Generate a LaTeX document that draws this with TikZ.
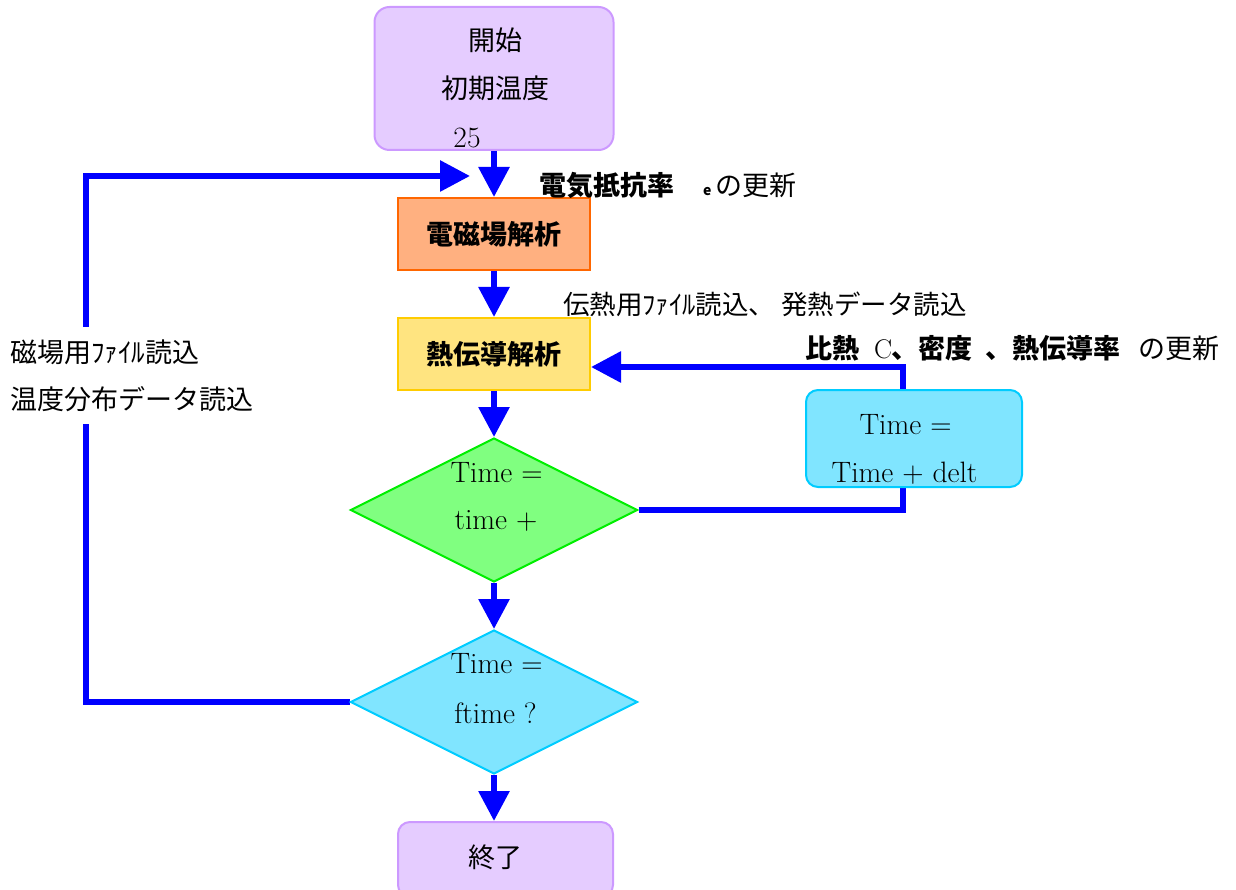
\documentclass[tikz,border=0pt]{standalone}
\usepackage{fontspec}
\newfontfamily\jp{Noto Sans CJK JP}
\usetikzlibrary{arrows.meta,shapes.geometric,backgrounds}
\definecolor{lavfill}{HTML}{E5CCFF}
\definecolor{lavdraw}{HTML}{CC99FF}
\definecolor{emfill}{HTML}{FFB080}
\definecolor{emdraw}{HTML}{FF6600}
\definecolor{heatfill}{HTML}{FFE480}
\definecolor{heatdraw}{HTML}{FFCC00}
\definecolor{gfill}{HTML}{80FF80}
\definecolor{gdraw}{HTML}{00EE00}
\definecolor{cfill}{HTML}{80E5FF}
\definecolor{cdraw}{HTML}{00CCFF}
\definecolor{flowblue}{HTML}{0000FF}
\begin{document}
\begin{tikzpicture}[x=1pt,y=-1pt,
  flow/.style={draw=flowblue, line width=6pt},
  arr/.style={flow, -{Triangle[length=30pt,width=30pt]}},
  jptext/.style={font=\jp\fontsize{27}{32}\selectfont, inner sep=0pt},
  lmtext/.style={font=\fontsize{29.5}{34}\selectfont, inner sep=0pt},
  roundbox/.style={line width=2pt, inner sep=0pt},
  procbox/.style={line width=2pt, inner sep=0pt, font=\jp\bfseries\fontsize{27}{32}\selectfont},
  decision/.style={diamond, line width=2pt, inner sep=0pt, minimum width=287pt, minimum height=144pt}
]
\useasboundingbox (0,0) rectangle (1236,890);
% boxes
\node[roundbox, draw=lavdraw, fill=lavfill, rounded corners=15pt, minimum width=239pt, minimum height=143pt] (start) at (494,78.5) {};
\node[jptext] (startA) at (495,40) {開始};
\node[jptext] (startB) at (495,88) {初期温度};
\node[lmtext] (startC) at (467,137.5) {25};

\node[procbox, draw=emdraw, fill=emfill, minimum width=192pt, minimum height=72pt] (em) at (494,234) {電磁場解析};
\node[procbox, draw=heatdraw, fill=heatfill, minimum width=192pt, minimum height=72pt] (heat) at (494,354) {熱伝導解析};

\node[decision, draw=gdraw, fill=gfill] (d1) at (494,510) {};
\node[lmtext] (d1A) at (496.5,473) {Time =};
\node[lmtext] (d1B) at (496,521) {time +};

\node[decision, draw=cdraw, fill=cfill] (d2) at (494,702) {};
\node[lmtext] (d2A) at (496.5,664) {Time =};
\node[lmtext] (d2B) at (495.5,713.5) {ftime ?};

\node[roundbox, draw=cdraw, fill=cfill, rounded corners=12pt, minimum width=216pt, minimum height=97pt] (tbox) at (914,438.5) {};
\node[lmtext] (tboxA) at (905.5,425) {Time =};
\node[lmtext] (tboxB) at (904.5,473) {Time + delt};

\node[roundbox, draw=lavdraw, fill=lavfill, rounded corners=12pt, minimum width=215pt, minimum height=75pt] (end) at (505.5,859.5) {};
\node[jptext] (endA) at (495,857) {終了};

% connectors
\coordinate (rt) at (903,367);
\coordinate (lt) at (86,176);
\coordinate (ltip) at (470,176);
\begin{pgfonlayer}{background}
\draw[arr] (start.south) -- (em.north);
\draw[arr] (em.south) -- (heat.north);
\draw[arr] (heat.south) -- (d1.north);
\draw[arr] (d1.south) -- (d2.north);
\draw[arr] (d2.south) -- (d2.south |- end.north);
\draw[arr] (d1.east) -| (rt) -- (rt -| heat.east);
\draw[arr] (d2.west) -| (lt) -- (ltip);
\end{pgfonlayer}

% labels
\node[jptext, anchor=west] (lblE) at (539,185) {\makebox[164pt][l]{\bfseries 電気抵抗率}\makebox[12pt][l]{\fontsize{14}{14}\selectfont\bfseries e}の更新};
\node[jptext, anchor=west, font=\jp\fontsize{26.5}{32}\selectfont] (lblH) at (563,304) {伝熱用ﾌｧｲﾙ読込、 発熱データ読込};
\node[jptext, anchor=west] (lblR) at (805,348) {\makebox[69pt][l]{\bfseries 比熱}\makebox[17pt][l]{\rmfamily C}\makebox[94pt][l]{\bfseries 、密度}\makebox[153pt][l]{\bfseries 、熱伝導率}の更新};
\node[jptext, anchor=west, fill=white, align=left, font=\jp\fontsize{27}{47}\selectfont, minimum height=97pt] (lblL) at (10,375.5) {磁場用ﾌｧｲﾙ読込\\温度分布データ読込};
\end{tikzpicture}
\end{document}
